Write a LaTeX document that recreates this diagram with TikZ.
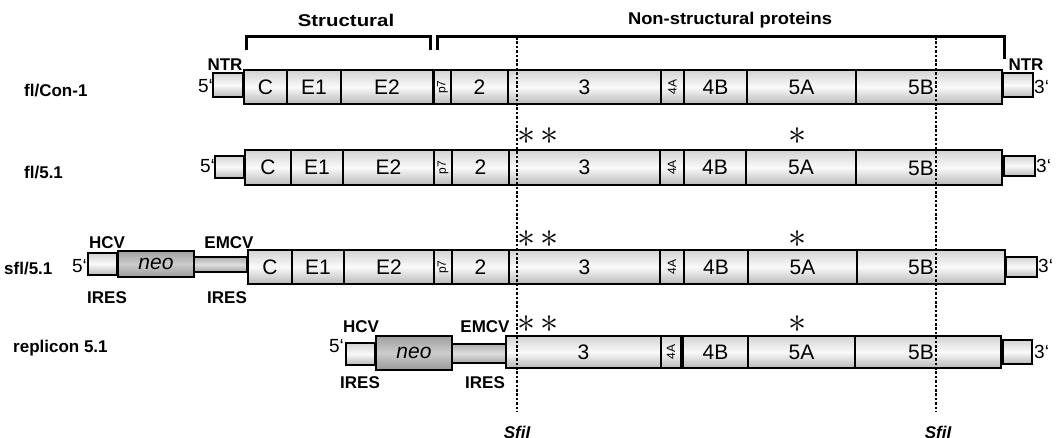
\documentclass[tikz,border=0pt]{standalone}
\usepackage{fontspec}
\setmainfont{Liberation Sans}
\usepackage{graphicx}
\tikzset{
  x=1pt, y=-1pt,
  segbox/.style={draw, line width=1.2pt, inner sep=0pt, outer sep=0pt,
    top color=gray!35, bottom color=gray!55, middle color=gray!4,
    font=\fontsize{21}{21}\selectfont},
  neobox/.style={segbox, top color=gray!75, bottom color=gray!80, middle color=gray!40,
    font=\fontsize{21}{21}\selectfont\itshape},
  emcvbox/.style={segbox, top color=gray!65, bottom color=gray!70, middle color=gray!25},
  bold/.style={font=\fontsize{17}{17}\selectfont\bfseries, inner sep=0pt},
  rowlbl/.style={font=\fontsize{17}{17}\selectfont\bfseries, inner sep=0pt, anchor=west},
  prime/.style={font=\fontsize{19}{19}\selectfont, inner sep=0pt},
  star/.style={font=\fontsize{24}{24}\selectfont, inner sep=0pt},
  seglbl/.style={font=\fontsize{21}{21}\selectfont, inner sep=0pt},
  bracket/.style={line width=3pt},
  sfi/.style={line width=2.6pt, dash pattern=on 2.6pt off 1.8pt},
  sfilbl/.style={font=\fontsize{17}{17}\selectfont\bfseries\itshape, inner sep=0pt, anchor=base},
}
\newcommand\seg[7][segbox]{%
  \node[#1, minimum width={#4-#3}, minimum height={#6-#5}] (#2) at ({(#3+#4)/2},{(#5+#6)/2}) {#7};}
\newcommand\rot[1]{\rotatebox{90}{\fontsize{12}{12}\selectfont #1}}
\newcommand\wide[2]{\scalebox{#1}[1]{#2}}
\newcommand\onestar{\scalebox{1.45}{$\ast$}}
\newcommand\twostars{\onestar\hspace{4pt}\onestar}
\begin{document}
\begin{tikzpicture}
\useasboundingbox (0,0) rectangle (1059,437);

% brackets
\draw[bracket] (246,50) -- (246,36) -- (430,36) -- (430,50);
\draw[bracket] (437,50) -- (437,36) -- (1004,36) -- (1004,59);
\node[bold] (structural) at (346,20) {\wide{1.2}{Structural}};
\node[bold] (nonstructural) at (730,20) {\wide{1.08}{Non-structural proteins}};

% ---------- Row 1: fl/Con-1 ----------
\node[rowlbl] (l1) at (24,91) {fl/Con-1};
\seg{r1ntr5}{213}{243}{73}{97}{}
\seg{r1C}{244}{287}{70}{104}{C}
\seg{r1E1}{287}{341}{70}{104}{E1}
\seg{r1E2}{341}{433}{70}{104}{E2}
\seg{r1p7}{434}{451}{70}{104}{\rot{p7}}
\seg{r1two}{451}{508}{70}{104}{2}
\seg{r1three}{508}{661}{70}{104}{3}
\seg{r1fourA}{661}{684}{70}{104}{\rot{4A}}
\seg{r1fourB}{684}{747}{70}{104}{4B}
\seg{r1fiveA}{747}{856}{70}{104}{5A}
\seg{r1fiveB}{856}{1002}{70}{104}{}
\node[seglbl] (r1fiveBl) at (921,87) {5B};
\seg{r1ntr3}{1003}{1033}{73}{97}{}
\node[bold] (ntrL) at (225,65) {NTR};
\node[bold] (ntrR) at (1026,65) {NTR};
\node[prime, anchor=east] (r1p5) at (213,86) {5‘};
\node[prime, anchor=west] (r1p3) at (1034,87) {3‘};

% ---------- Row 2: fl/5.1 ----------
\node[rowlbl] (l2) at (24,173) {fl/5.1};
\seg{r2ntr5}{215}{244}{156}{178}{}
\seg{r2C}{245}{291}{150}{185}{C}
\seg{r2E1}{291}{343}{150}{185}{E1}
\seg{r2E2}{343}{434}{150}{185}{E2}
\seg{r2p7}{434}{452}{150}{185}{\rot{p7}}
\seg{r2two}{452}{509}{150}{185}{2}
\seg{r2three}{509}{660}{150}{185}{3}
\seg{r2fourA}{660}{684}{150}{185}{\rot{4A}}
\seg{r2fourB}{684}{746}{150}{185}{4B}
\seg{r2fiveA}{746}{856}{150}{185}{5A}
\seg{r2fiveB}{856}{1002}{150}{185}{}
\node[seglbl] (r2fiveBl) at (921,168) {5B};
\seg{r2ntr3}{1004}{1035}{156}{176}{}
\node[prime, anchor=east] (r2p5) at (215,166) {5‘};
\node[prime, anchor=west] (r2p3) at (1036,166) {3‘};
\node[star] (r2s1) at (538,136) {\twostars};
\node[star] (r2s2) at (798,136) {\onestar};

% ---------- Row 3: sfl/5.1 ----------
\node[rowlbl] (l3) at (4,269) {sfl/5.1};
\seg{r3hcv}{88}{117}{253}{275}{}
\seg[neobox]{r3neo}{118}{194}{251}{277}{neo}
\seg[emcvbox]{r3emcv}{194}{247}{257}{272}{}
\seg{r3C}{248}{292}{250}{284}{C}
\seg{r3E1}{292}{344}{250}{284}{E1}
\seg{r3E2}{344}{434}{250}{284}{E2}
\seg{r3p7}{434}{452}{250}{284}{\rot{p7}}
\seg{r3two}{452}{509}{250}{284}{2}
\seg{r3three}{509}{660}{250}{284}{3}
\seg{r3fourA}{660}{684}{250}{284}{\rot{4A}}
\seg{r3fourB}{684}{748}{250}{284}{4B}
\seg{r3fiveA}{748}{857}{250}{284}{5A}
\seg{r3fiveB}{857}{1005}{250}{284}{}
\node[seglbl] (r3fiveBl) at (921,267) {5B};
\seg{r3ntr3}{1006}{1037}{257}{277}{}
\node[prime, anchor=east] (r3p5) at (87,266) {5‘};
\node[prime, anchor=west] (r3p3) at (1038,266) {3‘};
\node[bold] (r3hcvl) at (107,243) {HCV};
\node[bold] (r3emcvl) at (229,243) {EMCV};
\node[bold] (r3ires1) at (107,298) {IRES};
\node[bold] (r3ires2) at (227,298) {IRES};
\node[star] (r3s1) at (538,239) {\twostars};
\node[star] (r3s2) at (798,239) {\onestar};

% ---------- Row 4: replicon 5.1 ----------
\node[rowlbl] (l4) at (13,348) {replicon 5.1};
\seg{r4hcv}{346}{375}{343}{365}{}
\seg[neobox]{r4neo}{376}{452}{336}{370}{neo}
\seg[emcvbox]{r4emcv}{452}{506}{344}{363}{}
\seg{r4three}{506}{661}{336}{368}{3}
\seg{r4fourA}{661}{681}{336}{368}{\rot{4A}}
\seg{r4fourB}{683}{748}{336}{368}{4B}
\seg{r4fiveA}{748}{855}{336}{368}{5A}
\seg{r4fiveB}{855}{1001}{336}{368}{}
\node[seglbl] (r4fiveBl) at (921,352) {5B};
\seg{r4ntr3}{1003}{1032}{340}{364}{}
\node[prime, anchor=east] (r4p5) at (344,346) {5‘};
\node[prime, anchor=west] (r4p3) at (1034,352) {3‘};
\node[bold] (r4hcvl) at (361,327) {HCV};
\node[bold] (r4emcvl) at (485,327) {EMCV};
\node[bold] (r4ires1) at (360,383) {IRES};
\node[bold] (r4ires2) at (485,383) {IRES};
\node[star] (r4s1) at (538,324) {\twostars};
\node[star] (r4s2) at (798,324) {\onestar};

% ---------- SfiI sites ----------
\coordinate (sfiAtop) at (517,37);
\coordinate (sfiAbot) at (517,412);
\coordinate (sfiBtop) at (936,37);
\coordinate (sfiBbot) at (936,412);
\draw[sfi] (sfiAtop) -- (sfiAbot);
\draw[sfi] (sfiBtop) -- (sfiBbot);
\node[sfilbl] (sfiA) at (517,438) {SfiI};
\node[sfilbl] (sfiB) at (938,438) {SfiI};
\end{tikzpicture}
\end{document}
